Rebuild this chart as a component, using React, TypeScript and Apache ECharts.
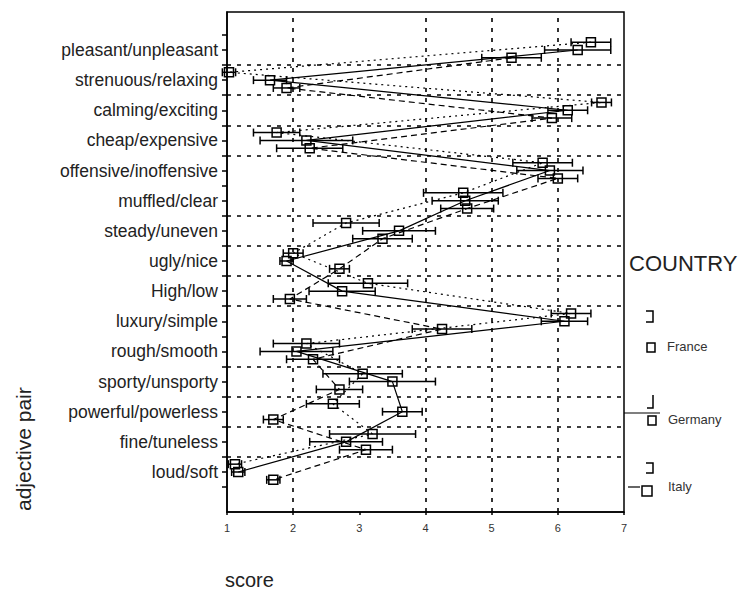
import React, { useEffect, useRef } from "react";
import * as echarts from "echarts";

const categories = [
  "pleasant/unpleasant",
  "strenuous/relaxing",
  "calming/exciting",
  "cheap/expensive",
  "offensive/inoffensive",
  "muffled/clear",
  "steady/uneven",
  "ugly/nice",
  "High/low",
  "luxury/simple",
  "rough/smooth",
  "sporty/unsporty",
  "powerful/powerless",
  "fine/tuneless",
  "loud/soft",
];

const franceMean = [6.5, 1.03, 6.66, 1.75, 5.77, 4.57, 2.8, 2.0, 3.13, 6.2, 2.2, 3.05, 2.6, 3.2, 1.12];
const franceErr = [0.3, 0.1, 0.15, 0.35, 0.45, 0.6, 0.5, 0.15, 0.6, 0.3, 0.5, 0.6, 0.4, 0.65, 0.1];
const germanyMean = [6.3, 1.65, 6.15, 2.2, 5.88, 4.6, 3.6, 1.9, 2.74, 6.1, 2.05, 3.5, 3.65, 2.8, 1.17];
const germanyErr = [0.5, 0.25, 0.3, 0.7, 0.5, 0.5, 0.55, 0.1, 0.5, 0.35, 0.55, 0.65, 0.3, 0.55, 0.1];
const italyMean = [5.3, 1.9, 5.91, 2.25, 6.0, 4.63, 3.35, 2.7, 1.95, 4.25, 2.3, 2.7, 1.7, 3.1, 1.7];
const italyErr = [0.45, 0.2, 0.3, 0.5, 0.3, 0.4, 0.45, 0.15, 0.25, 0.45, 0.4, 0.35, 0.15, 0.4, 0.1];

const xTicks = [1, 2, 3, 4, 5, 6, 7];
const xGridValues = [2, 4, 5, 6];
const yGridValues = [13.5, 12.5, 11.5, 10.5, 8.5, 7.5, 6.5, 5.5, 3.5, 2.5, 1.5, 0.5];

const FONT = "'Liberation Sans', Arial, sans-serif";
const N = categories.length;

function points(mean: number[], offset: number) {
  return mean.map((v, i) => [v, N - 1 - i + offset]);
}
function bars(mean: number[], err: number[], offset: number) {
  return mean.map((v, i) => [v, N - 1 - i + offset, err[i]]);
}

const errorRender = (params: any, api: any) => {
  const x = api.value(0);
  const y = api.value(1);
  const e = api.value(2);
  const p1 = api.coord([x - e, y]);
  const p2 = api.coord([x + e, y]);
  const h = 4;
  const style = { stroke: "#000", lineWidth: 1.5 };
  return {
    type: "group",
    children: [
      { type: "line", shape: { x1: p1[0], y1: p1[1], x2: p2[0], y2: p2[1] }, style },
      { type: "line", shape: { x1: p1[0], y1: p1[1] - h, x2: p1[0], y2: p1[1] + h }, style },
      { type: "line", shape: { x1: p2[0], y1: p2[1] - h, x2: p2[0], y2: p2[1] + h }, style },
    ],
  };
};

const seriesDefs = [
  { name: "France", mean: franceMean, err: franceErr, offset: 0.26, dash: [2, 4] as any },
  { name: "Germany", mean: germanyMean, err: germanyErr, offset: 0, dash: "solid" as any },
  { name: "Italy", mean: italyMean, err: italyErr, offset: -0.26, dash: [6, 4] as any },
];

export default function App() {
  const ref = useRef<HTMLDivElement>(null);
  useEffect(() => {
    if (!ref.current) return;
    const chart = echarts.init(ref.current, null, { renderer: "svg" });
    const yTickVals: number[] = [];
    for (let i = -0.5; i <= N - 0.5; i += 0.5) yTickVals.push(i);
    const yLabelVals = categories.map((_, i) => i);

    const series: any[] = [];
    seriesDefs.forEach((s, k) => {
      series.push({
        type: "custom",
        name: s.name + " error",
        renderItem: errorRender,
        data: bars(s.mean, s.err, s.offset),
        encode: { x: 0, y: 1 },
        silent: true,
        z: 3,
      });
      series.push({
        type: "line",
        name: s.name,
        data: points(s.mean, s.offset),
        symbol: "rect",
        symbolSize: 9,
        showSymbol: true,
        lineStyle: { color: "#000", width: 1.2, type: s.dash },
        itemStyle: { color: "rgba(255,255,255,0)", borderColor: "#000", borderWidth: 1.5 },
        z: 4,
        silent: true,
        markLine:
          k === 0
            ? {
                silent: true,
                symbol: ["none", "none"],
                label: { show: false },
                lineStyle: { color: "#000", type: [4, 6], width: 1.6 },
                data: [
                  ...xGridValues.map((v) => ({ xAxis: v })),
                  ...yGridValues.map((v) => ({ yAxis: v })),
                ],
              }
            : undefined,
      });
    });

    const graphic: any[] = [
      { type: "text", left: 225, top: 570, style: { text: "score", font: `20px ${FONT}`, fill: "#222" } },
      {
        type: "text",
        x: 13,
        y: 511,
        rotation: Math.PI / 2,
        style: { text: "adjective pair", font: `21px ${FONT}`, fill: "#222" },
      },
      { type: "text", left: 629, top: 252, style: { text: "COUNTRY", font: `22px ${FONT}`, fill: "#222" } },
      // France
      { type: "polyline", shape: { points: [[646, 311], [653, 311], [653, 322], [646, 322]] }, style: { stroke: "#000", lineWidth: 1.5, fill: "none" } },
      { type: "rect", shape: { x: 647, y: 343, width: 8, height: 9 }, style: { stroke: "#000", lineWidth: 1.5, fill: "none" } },
      { type: "text", left: 667, top: 340, style: { text: "France", font: `13px ${FONT}`, fill: "#333" } },
      // Germany
      { type: "polyline", shape: { points: [[653, 395], [653, 408], [647, 408]] }, style: { stroke: "#000", lineWidth: 1.5, fill: "none" } },
      { type: "line", shape: { x1: 624, y1: 413, x2: 660, y2: 413 }, style: { stroke: "#000", lineWidth: 1.2 } },
      { type: "rect", shape: { x: 648, y: 416, width: 8, height: 9 }, style: { stroke: "#000", lineWidth: 1.5, fill: "none" } },
      { type: "text", left: 668, top: 413, style: { text: "Germany", font: `13px ${FONT}`, fill: "#333" } },
      // Italy
      { type: "polyline", shape: { points: [[646, 463], [653, 463], [653, 473], [646, 473]] }, style: { stroke: "#000", lineWidth: 1.5, fill: "none" } },
      { type: "line", shape: { x1: 628, y1: 487, x2: 640, y2: 487 }, style: { stroke: "#000", lineWidth: 1.2 } },
      { type: "rect", shape: { x: 642, y: 486, width: 10, height: 10 }, style: { stroke: "#000", lineWidth: 1.5, fill: "none" } },
      { type: "text", left: 668, top: 480, style: { text: "Italy", font: `13px ${FONT}`, fill: "#333" } },
    ];

    chart.setOption({
      animation: false,
      backgroundColor: "#fff",
      grid: {
        left: 227,
        top: 12,
        width: 397,
        height: 500,
        show: true,
        borderColor: "#000",
        borderWidth: 1.5,
        backgroundColor: "rgba(0,0,0,0)",
      },
      xAxis: {
        type: "value",
        min: xTicks[0],
        max: xTicks[xTicks.length - 1],
        interval: 1,
        axisLine: { show: true, onZero: false, lineStyle: { color: "#000", width: 1.5 } },
        axisTick: { show: true, length: 3, lineStyle: { color: "#000", width: 1.5 } },
        axisLabel: { color: "#333", fontSize: 11, fontFamily: FONT, margin: 10 },
        splitLine: { show: false },
      },
      yAxis: {
        type: "value",
        min: -1.327,
        max: 15.26,
        axisLine: { show: true, onZero: false, lineStyle: { color: "#000", width: 1.5 } },
        axisTick: {
          show: true,
          length: 5,
          customValues: yTickVals,
          lineStyle: { color: "#000", width: 1.5 },
        },
        axisLabel: {
          show: true,
          customValues: yLabelVals,
          formatter: (v: number) => categories[N - 1 - Math.round(v)] ?? "",
          color: "#222",
          fontSize: 17.5,
          fontFamily: FONT,
          margin: 9,
        },
        splitLine: { show: false },
      },
      graphic,
      series,
    });
    return () => chart.dispose();
  }, []);
  return (
    <div
      ref={ref}
      style={{ position: "fixed", left: 0, top: 0, width: 745, height: 595, background: "#fff" }}
    />
  );
}
